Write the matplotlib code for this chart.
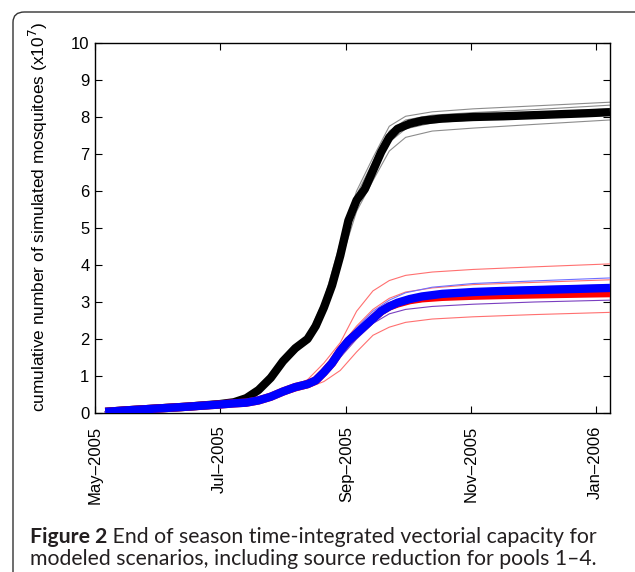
import datetime as dt
import numpy as np
import matplotlib
matplotlib.use("Agg")
import matplotlib.pyplot as plt
import matplotlib.dates as mdates
from matplotlib.patches import FancyBboxPatch

# ---------------- data (days since 1 May 2005, values x10^7) ----------------
start_date = dt.date(2005, 5, 1)

days_main = [5, 15, 30, 45, 61, 68, 74, 80, 86, 92, 98, 104, 108, 112, 116, 120,
             124, 128, 132, 136, 140, 144, 148, 154, 160, 170, 185, 200, 220, 240, 252]

baseline = [0.03, 0.07, 0.12, 0.17, 0.24, 0.29, 0.40, 0.62, 0.95, 1.40, 1.75, 2.00,
            2.35, 2.85, 3.45, 4.25, 5.20, 5.75, 6.05, 6.55, 7.05, 7.45, 7.68, 7.82,
            7.90, 7.96, 8.00, 8.02, 8.06, 8.10, 8.13]

reduction_red = [0.03, 0.07, 0.12, 0.17, 0.23, 0.26, 0.28, 0.34, 0.44, 0.58, 0.70,
                 0.78, 0.88, 1.10, 1.35, 1.68, 1.95, 2.15, 2.35, 2.55, 2.75, 2.88,
                 2.96, 3.05, 3.10, 3.14, 3.17, 3.19, 3.21, 3.23, 3.24]

reduction_blue = [0.03, 0.07, 0.12, 0.17, 0.23, 0.26, 0.28, 0.34, 0.44, 0.58, 0.70,
                  0.78, 0.88, 1.10, 1.35, 1.68, 1.95, 2.15, 2.35, 2.55, 2.75, 2.88,
                  2.98, 3.08, 3.15, 3.22, 3.27, 3.30, 3.33, 3.36, 3.38]

days_members = [5, 45, 68, 80, 92, 104, 112, 120, 128, 136, 144, 152, 165, 185, 215, 252]

gray_members = [
    [0.03, 0.18, 0.31, 0.68, 1.50, 2.10, 3.05, 4.60, 6.00, 6.90, 7.75, 8.02, 8.14, 8.22, 8.30, 8.40],
    [0.03, 0.18, 0.30, 0.65, 1.45, 2.05, 2.95, 4.45, 5.90, 6.78, 7.62, 7.92, 8.05, 8.12, 8.20, 8.32],
    [0.03, 0.17, 0.29, 0.62, 1.40, 2.00, 2.85, 4.30, 5.75, 6.62, 7.48, 7.80, 7.95, 8.02, 8.12, 8.22],
    [0.03, 0.17, 0.29, 0.60, 1.37, 1.97, 2.78, 4.15, 5.60, 6.48, 7.32, 7.68, 7.84, 7.92, 8.00, 8.08],
    [0.03, 0.17, 0.28, 0.57, 1.32, 1.93, 2.70, 4.05, 5.45, 6.28, 7.08, 7.45, 7.62, 7.70, 7.80, 7.92],
]

red_members = [
    [0.03, 0.18, 0.28, 0.38, 0.62, 0.90, 1.35, 1.90, 2.75, 3.30, 3.58, 3.72, 3.81, 3.88, 3.95, 4.03],
    [0.03, 0.17, 0.27, 0.36, 0.60, 0.82, 1.20, 1.80, 2.35, 2.80, 3.10, 3.27, 3.38, 3.47, 3.53, 3.60],
    [0.03, 0.17, 0.26, 0.34, 0.58, 0.79, 1.12, 1.70, 2.18, 2.58, 2.88, 3.05, 3.15, 3.22, 3.27, 3.32],
    [0.03, 0.17, 0.26, 0.33, 0.56, 0.76, 1.05, 1.62, 2.08, 2.48, 2.78, 2.96, 3.05, 3.12, 3.17, 3.20],
    [0.03, 0.16, 0.25, 0.32, 0.50, 0.68, 0.85, 1.15, 1.65, 2.10, 2.32, 2.45, 2.54, 2.60, 2.66, 2.72],
]

blue_members = [
    [0.03, 0.17, 0.27, 0.36, 0.60, 0.82, 1.18, 1.78, 2.30, 2.75, 3.05, 3.25, 3.40, 3.50, 3.57, 3.65],
    [0.03, 0.17, 0.26, 0.35, 0.59, 0.80, 1.15, 1.74, 2.24, 2.66, 2.95, 3.12, 3.26, 3.35, 3.41, 3.47],
    [0.03, 0.17, 0.26, 0.34, 0.57, 0.78, 1.10, 1.68, 2.16, 2.58, 2.88, 3.04, 3.16, 3.24, 3.30, 3.35],
    [0.03, 0.17, 0.26, 0.33, 0.55, 0.74, 1.00, 1.50, 2.00, 2.42, 2.68, 2.80, 2.88, 2.94, 3.00, 3.05],
]

tick_dates = [dt.date(2005, 5, 1), dt.date(2005, 7, 1), dt.date(2005, 9, 1),
              dt.date(2005, 11, 1), dt.date(2006, 1, 1)]
tick_labels = ["May\u20132005", "Jul\u20132005", "Sep\u20132005", "Nov\u20132005", "Jan\u20132006"]
y_ticks = list(range(0, 11))

caption_bold = "Figure 2"
caption_line1 = " End of season time-integrated vectorial capacity for"
caption_line2 = "modeled scenarios, including source reduction for pools 1\u20134."

# ---------------- figure ----------------
def to_dates(days):
    return [start_date + dt.timedelta(days=d) for d in days]

W, H = 635, 572
fig = plt.figure(figsize=(W / 100, H / 100), dpi=100)
fig.patch.set_facecolor("white")

# rounded frame
frame = FancyBboxPatch((13 / W, -30 / H), (W + 40) / W, (H - 12 + 30) / H,
                       boxstyle="round,pad=0,rounding_size=0.018",
                       transform=fig.transFigure, facecolor="none",
                       edgecolor="#333333", linewidth=1.0, clip_on=False)
fig.patches.append(frame)

ax = fig.add_axes([95 / W, (H - 413) / H, 515 / W, 370 / H])

xm = to_dates(days_members)
xd = to_dates(days_main)

for m in gray_members:
    ax.plot(xm, m, color="#8c8c8c", lw=0.8, zorder=2)
ax.plot(xd, baseline, color="black", lw=6.0, zorder=3, solid_capstyle="butt")

for m in red_members:
    ax.plot(xm, m, color="#ff7070", lw=0.8, zorder=4)
ax.plot(xd, reduction_red, color="#ff0000", lw=6.0, zorder=5, solid_capstyle="butt")

blue_cols = ["#6f6fff", "#8080ff", "#7070ff", "#7a3fc0"]
for m, c in zip(blue_members, blue_cols):
    ax.plot(xm, m, color=c, lw=0.8, zorder=6)
ax.plot(xd, reduction_blue, color="#0000ff", lw=6.0, zorder=7, solid_capstyle="butt")

ax.set_xlim(mdates.date2num(dt.date(2005, 5, 1)), mdates.date2num(dt.date(2006, 1, 8)))
ax.set_ylim(0, 10)
ax.set_xticks([mdates.date2num(d) for d in tick_dates])
ax.set_xticklabels(tick_labels, rotation=90, fontfamily="Liberation Sans", fontsize=12)
ax.set_yticks(y_ticks)
ax.set_yticklabels([str(v) for v in y_ticks], fontfamily="Liberation Sans", fontsize=12)
ax.tick_params(direction="in", length=5, width=0.8, top=True, right=True)
ax.tick_params(axis="x", pad=9)
ax.tick_params(axis="y", pad=4)
for s in ax.spines.values():
    s.set_linewidth(1.0)

ax.set_ylabel("cumulative number of simulated mosquitoes (x10$^7$)",
              fontfamily="Liberation Sans", fontsize=12.4)
ax.yaxis.set_label_coords(-0.087, 0.53)

cap_kw = dict(fontfamily="Lato", fontsize=15.3, color="#231f20", va="baseline")
t1 = fig.text(30 / W, (H - 543) / H, caption_bold, fontweight="bold", **cap_kw)
fig.canvas.draw()
bb = t1.get_window_extent()
fig.text(bb.x1 / W, (H - 543) / H, caption_line1, **cap_kw)
fig.text(30 / W, (H - 565) / H, caption_line2, **cap_kw)

fig.savefig("out.png", dpi=100)
